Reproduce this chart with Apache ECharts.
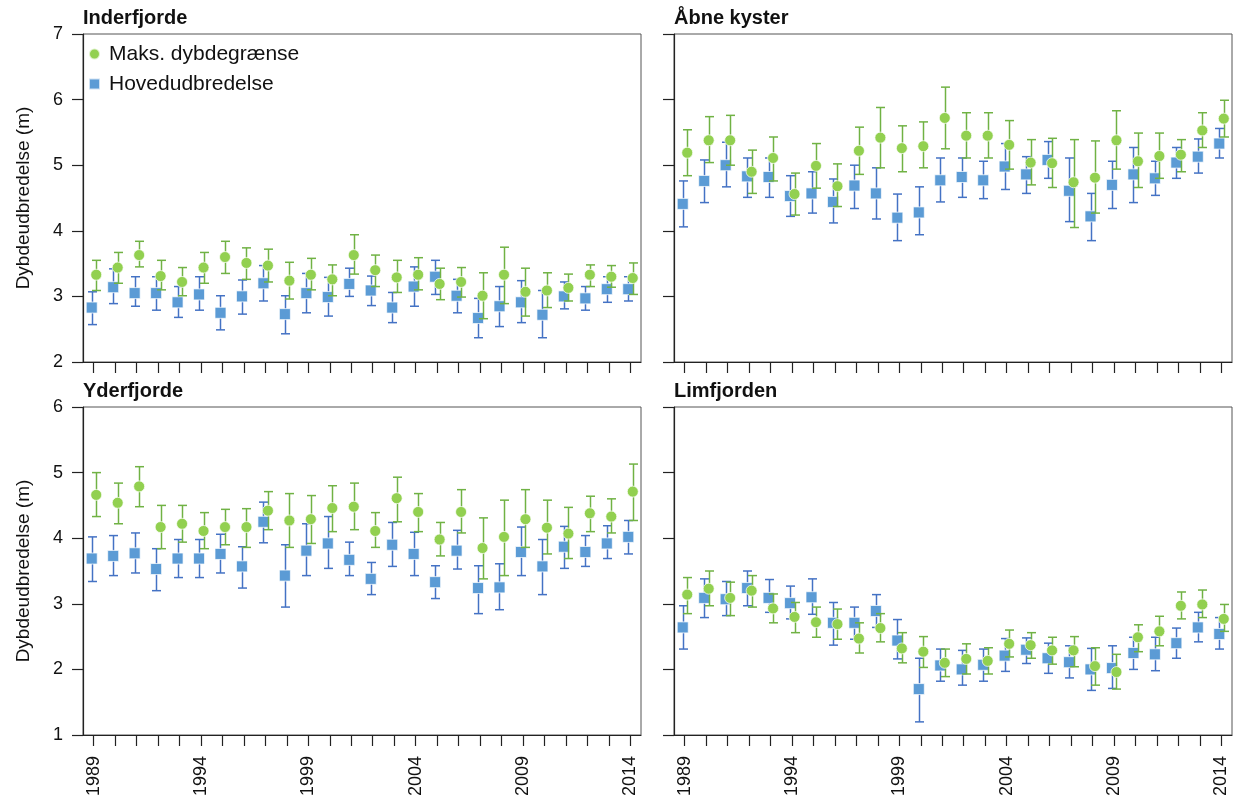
<!DOCTYPE html>
<html>
<head>
<meta charset="utf-8">
<script src="https://cdn.jsdelivr.net/npm/echarts@6/dist/echarts.min.js"></script>
<style>
html,body{margin:0;padding:0;background:#fff;}
#chart{width:1233px;height:801px;}
</style>
</head>
<body>
<div id="chart"></div>
<script>
// ---------- DATA ----------
const years = ['1989','1990','1991','1992','1993','1994','1995','1996','1997','1998','1999','2000','2001','2002','2003','2004','2005','2006','2007','2008','2009','2010','2011','2012','2013','2014'];
const panelTitles = ['Inderfjorde', 'Åbne kyster', 'Yderfjorde', 'Limfjorden'];
const seriesNames = ['Maks. dybdegrænse', 'Hovedudbredelse'];
const yAxisName = 'Dybdeudbredelse (m)';

// Inderfjorde
const inderMaks   = [3.33,3.44,3.63,3.31,3.22,3.44,3.60,3.51,3.47,3.24,3.33,3.26,3.63,3.40,3.29,3.33,3.19,3.22,3.01,3.33,3.07,3.09,3.13,3.33,3.30,3.28];
const inderMaksHi = [3.55,3.67,3.84,3.55,3.44,3.67,3.84,3.74,3.72,3.52,3.58,3.48,3.94,3.63,3.55,3.59,3.43,3.44,3.36,3.75,3.43,3.36,3.34,3.48,3.47,3.51];
const inderMaksLo = [3.09,3.20,3.45,3.10,3.01,3.20,3.35,3.26,3.22,2.96,3.10,3.01,3.34,3.15,3.06,3.10,2.95,2.99,2.66,2.89,2.70,2.83,2.93,3.15,3.14,3.03];
const inderHoved   = [2.83,3.14,3.05,3.05,2.91,3.03,2.75,3.00,3.20,2.73,3.05,2.99,3.19,3.09,2.83,3.15,3.30,3.01,2.67,2.85,2.91,2.72,3.00,2.97,3.11,3.11];
const inderHovedHi = [3.07,3.42,3.30,3.30,3.15,3.30,3.01,3.25,3.47,3.01,3.35,3.29,3.43,3.31,3.06,3.45,3.55,3.26,2.97,3.15,3.24,3.09,3.22,3.15,3.30,3.30];
const inderHovedLo = [2.57,2.89,2.85,2.79,2.68,2.79,2.49,2.73,2.93,2.43,2.75,2.70,3.00,2.86,2.60,2.85,3.03,2.75,2.37,2.54,2.60,2.37,2.81,2.79,2.91,2.93];

// Åbne kyster
const aabneMaks   = [5.19,5.38,5.38,4.90,5.11,4.56,4.99,4.68,5.22,5.42,5.26,5.29,5.72,5.45,5.45,5.31,5.04,5.03,4.74,4.81,5.38,5.06,5.14,5.16,5.53,5.71];
const aabneMaksHi = [5.54,5.74,5.76,5.23,5.43,4.88,5.33,5.02,5.58,5.88,5.60,5.66,6.19,5.80,5.80,5.68,5.39,5.41,5.39,5.37,5.83,5.49,5.49,5.39,5.80,5.99];
const aabneMaksLo = [4.84,5.04,5.00,4.57,4.76,4.24,4.65,4.37,4.86,4.96,4.90,4.96,5.25,5.11,5.11,4.94,4.70,4.66,4.05,4.27,4.94,4.66,4.80,4.90,5.27,5.43];
const aabneHoved   = [4.41,4.76,5.00,4.83,4.82,4.53,4.57,4.44,4.69,4.57,4.20,4.28,4.77,4.82,4.77,4.98,4.86,5.08,4.61,4.22,4.70,4.86,4.80,5.04,5.13,5.33];
const aabneHovedHi = [4.76,5.08,5.35,5.11,5.11,4.84,4.90,4.79,5.00,4.96,4.56,4.67,5.11,5.11,5.06,5.33,5.13,5.36,5.11,4.57,5.06,5.27,5.06,5.27,5.40,5.56];
const aabneHovedLo = [4.06,4.43,4.67,4.51,4.51,4.22,4.27,4.12,4.34,4.18,3.85,3.94,4.44,4.51,4.49,4.63,4.57,4.80,4.14,3.85,4.34,4.43,4.54,4.80,4.88,5.11];

// Yderfjorde
const yderMaks   = [4.66,4.54,4.79,4.17,4.22,4.11,4.17,4.17,4.42,4.27,4.29,4.46,4.48,4.11,4.61,4.40,3.98,4.40,3.85,4.02,4.29,4.16,4.07,4.38,4.33,4.71];
const yderMaksHi = [5.00,4.84,5.09,4.50,4.50,4.39,4.44,4.45,4.71,4.68,4.65,4.80,4.84,4.39,4.93,4.68,4.24,4.74,4.31,4.58,4.74,4.58,4.47,4.64,4.60,5.13];
const yderMaksLo = [4.33,4.22,4.48,3.84,3.94,3.84,3.90,3.86,4.13,3.86,3.92,4.10,4.13,3.86,4.25,4.10,3.73,4.08,3.38,3.43,3.86,3.76,3.69,4.10,4.08,4.27];
const yderHoved   = [3.69,3.73,3.77,3.53,3.69,3.69,3.76,3.57,4.25,3.43,3.81,3.92,3.67,3.38,3.90,3.76,3.33,3.81,3.24,3.25,3.79,3.57,3.87,3.79,3.92,4.02];
const yderHovedHi = [4.02,4.04,4.08,3.84,3.98,3.98,4.06,3.87,4.55,3.90,4.22,4.33,3.94,3.63,4.24,4.09,3.58,4.12,3.58,3.61,4.17,3.98,4.18,4.04,4.19,4.27];
const yderHovedLo = [3.34,3.43,3.47,3.20,3.40,3.40,3.47,3.24,3.93,2.95,3.43,3.54,3.43,3.14,3.57,3.43,3.08,3.53,2.85,2.91,3.43,3.14,3.54,3.57,3.69,3.76];

// Limfjorden
const limMaks   = [3.14,3.23,3.09,3.20,2.93,2.80,2.72,2.69,2.47,2.63,2.32,2.27,2.10,2.16,2.13,2.39,2.37,2.29,2.29,2.05,1.96,2.49,2.58,2.97,2.99,2.77];
const limMaksHi = [3.40,3.50,3.33,3.43,3.15,3.02,2.95,2.92,2.71,2.85,2.56,2.50,2.31,2.39,2.33,2.60,2.56,2.49,2.50,2.33,2.23,2.68,2.81,3.18,3.21,2.99];
const limMaksLo = [2.85,2.97,2.82,2.95,2.71,2.56,2.49,2.46,2.25,2.42,2.10,2.03,1.89,1.93,1.93,2.19,2.17,2.08,2.04,1.76,1.70,2.27,2.36,2.77,2.79,2.58];
const limHoved   = [2.64,3.09,3.07,3.24,3.09,3.01,3.10,2.71,2.71,2.89,2.44,1.70,2.06,2.00,2.07,2.21,2.30,2.17,2.11,2.00,2.02,2.25,2.23,2.40,2.64,2.54];
const limHovedHi = [2.97,3.38,3.34,3.50,3.37,3.27,3.38,3.02,2.95,3.14,2.76,2.17,2.31,2.29,2.31,2.47,2.48,2.40,2.36,2.32,2.36,2.49,2.49,2.63,2.87,2.79];
const limHovedLo = [2.31,2.79,2.82,2.97,2.87,2.77,2.84,2.37,2.46,2.64,2.16,1.20,1.82,1.76,1.82,1.97,2.09,1.94,1.87,1.68,1.71,2.00,1.98,2.17,2.42,2.31];

const yTicksTop = [2, 7];     // min, max of top panels
const yTicksBottom = [1, 6];  // min, max of bottom panels

// ---------- BUILD ----------
const FONT = '"Liberation Sans", Arial, sans-serif';
const GREEN = '#92D050', GREEN_BAR = '#70B244';
const BLUE = '#5B9BD5', BLUE_BAR = '#4472C4';
const OFF_BLUE = -2, OFF_GREEN = 2.5;

const panels = [
  {maks: inderMaks, maksHi: inderMaksHi, maksLo: inderMaksLo, hov: inderHoved, hovHi: inderHovedHi, hovLo: inderHovedLo, range: yTicksTop},
  {maks: aabneMaks, maksHi: aabneMaksHi, maksLo: aabneMaksLo, hov: aabneHoved, hovHi: aabneHovedHi, hovLo: aabneHovedLo, range: yTicksTop},
  {maks: yderMaks, maksHi: yderMaksHi, maksLo: yderMaksLo, hov: yderHoved, hovHi: yderHovedHi, hovLo: yderHovedLo, range: yTicksBottom},
  {maks: limMaks, maksHi: limMaksHi, maksLo: limMaksLo, hov: limHoved, hovHi: limHovedHi, hovLo: limHovedLo, range: yTicksBottom}
];

const gridPos = [
  {left: 83, top: 34, width: 558, height: 328},
  {left: 674, top: 34, width: 558, height: 328},
  {left: 83, top: 407, width: 558, height: 328},
  {left: 674, top: 407, width: 558, height: 328}
];

function errRender(offset, color) {
  return function (params, api) {
    const idx = api.value(0);
    const lo = api.coord([idx, api.value(1)]);
    const hi = api.coord([idx, api.value(2)]);
    const cx = Math.round(lo[0] + offset) + 0.5;
    const hw = 4.5;
    const st = {stroke: color, lineWidth: 1.5};
    return {
      type: 'group',
      children: [
        {type: 'line', shape: {x1: cx, y1: hi[1], x2: cx, y2: lo[1]}, style: st},
        {type: 'line', shape: {x1: cx - hw, y1: hi[1], x2: cx + hw, y2: hi[1]}, style: st},
        {type: 'line', shape: {x1: cx - hw, y1: lo[1], x2: cx + hw, y2: lo[1]}, style: st}
      ]
    };
  };
}

const grids = [], xAxes = [], yAxes = [], series = [], titles = [];
panels.forEach((p, i) => {
  const isLeft = (i % 2 === 0);
  const isBottom = (i >= 2);
  grids.push(Object.assign({show: true, borderColor: '#555', borderWidth: 1, containLabel: false}, gridPos[i]));
  titles.push({
    text: panelTitles[i], left: gridPos[i].left, top: gridPos[i].top - 26, padding: 0,
    textStyle: {fontFamily: FONT, fontSize: 20, fontWeight: 'bold', color: '#111'}
  });
  xAxes.push({
    type: 'category', gridIndex: i, data: years, boundaryGap: true,
    axisLine: {lineStyle: {color: '#222', width: 1.2}},
    axisTick: {show: true, alignWithLabel: true, interval: 0, length: 11, lineStyle: {color: '#222', width: 1.2}},
    axisLabel: {show: isBottom, interval: 4, rotate: 90, margin: 21, fontFamily: FONT, fontSize: 18, color: '#111'},
    splitLine: {show: false}
  });
  yAxes.push({
    type: 'value', gridIndex: i, min: p.range[0], max: p.range[1], interval: 1,
    name: isLeft ? yAxisName : '', nameLocation: 'middle', nameGap: 50, nameRotate: 90,
    nameTextStyle: {fontFamily: FONT, fontSize: 19, color: '#111'},
    axisLine: {show: true, lineStyle: {color: '#222', width: 1.2}},
    axisTick: {show: true, length: 11, lineStyle: {color: '#222', width: 1.2}},
    axisLabel: {show: isLeft, margin: 20, fontFamily: FONT, fontSize: 18, color: '#111'},
    splitLine: {show: false}
  });
  const hovErr = years.map((y, k) => [k, p.hovLo[k], p.hovHi[k]]);
  const maksErr = years.map((y, k) => [k, p.maksLo[k], p.maksHi[k]]);
  series.push({
    type: 'custom', xAxisIndex: i, yAxisIndex: i, z: 2, silent: true,
    renderItem: errRender(OFF_BLUE, BLUE_BAR), data: hovErr, encode: {x: 0, y: [1, 2]}
  });
  series.push({
    type: 'scatter', name: seriesNames[1], xAxisIndex: i, yAxisIndex: i, z: 3,
    symbol: 'rect', symbolSize: 11, symbolOffset: [OFF_BLUE, 0],
    itemStyle: {color: BLUE, borderColor: 'rgba(255,255,255,0.7)', borderWidth: 1, opacity: 1},
    data: p.hov
  });
  series.push({
    type: 'custom', xAxisIndex: i, yAxisIndex: i, z: 4, silent: true,
    renderItem: errRender(OFF_GREEN, GREEN_BAR), data: maksErr, encode: {x: 0, y: [1, 2]}
  });
  series.push({
    type: 'scatter', name: seriesNames[0], xAxisIndex: i, yAxisIndex: i, z: 5,
    symbol: 'circle', symbolSize: 11, symbolOffset: [OFF_GREEN, 0],
    itemStyle: {color: GREEN, borderColor: 'rgba(255,255,255,0.7)', borderWidth: 1, opacity: 1},
    data: p.maks
  });
});

const chart = echarts.init(document.getElementById('chart'), null, {renderer: 'canvas'});
chart.setOption({
  animation: false,
  backgroundColor: '#fff',
  title: titles,
  legend: {
    orient: 'vertical', left: 83, top: 38, itemGap: 8, itemWidth: 11, itemHeight: 11,
    data: [{name: seriesNames[0], icon: 'circle'}, {name: seriesNames[1], icon: 'rect'}],
    textStyle: {fontFamily: FONT, fontSize: 21, color: '#111', padding: [0, 0, 0, 4], lineHeight: 22}
  },
  grid: grids,
  xAxis: xAxes,
  yAxis: yAxes,
  series: series
});
</script>
</body>
</html>
